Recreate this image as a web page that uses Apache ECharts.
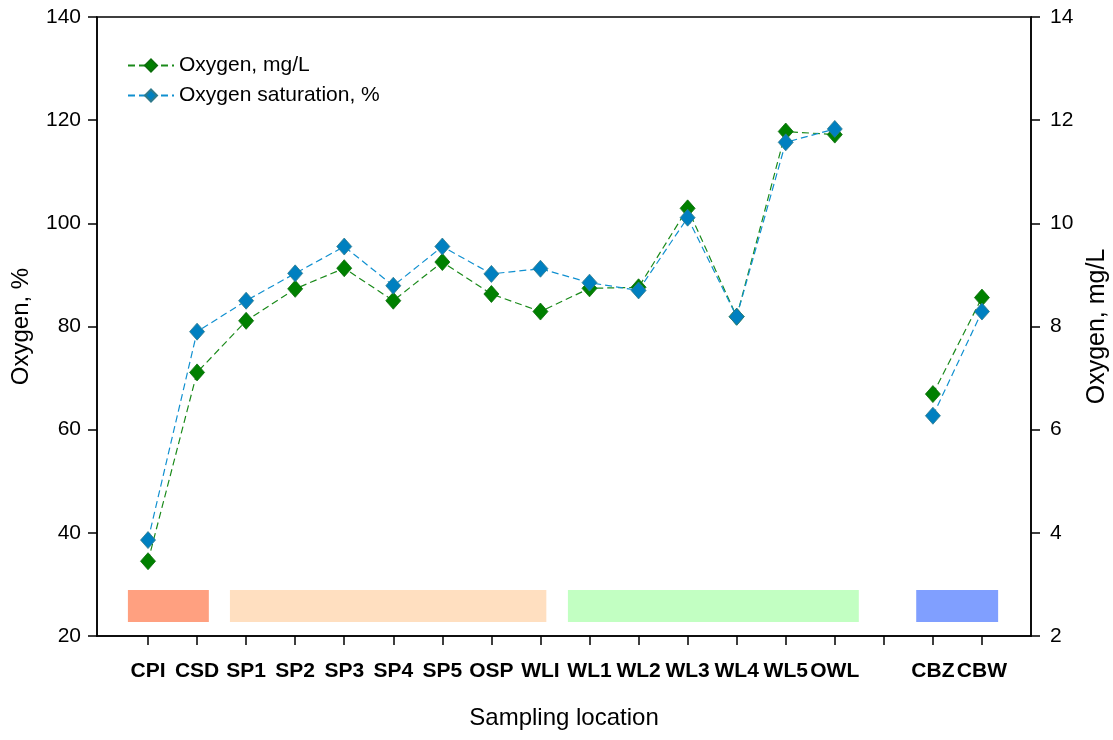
<!DOCTYPE html>
<html>
<head>
<meta charset="utf-8">
<script src="https://cdn.jsdelivr.net/npm/echarts@6/dist/echarts.min.js"></script>
<style>
  html, body { margin: 0; padding: 0; background: #fff; }
  #chart { width: 1113px; height: 740px; }
</style>
</head>
<body>
<div id="chart"></div>
<script>
// Sampling locations (the empty entry is a spacer between the two groups)
const categories = ['CPI', 'CSD', 'SP1', 'SP2', 'SP3', 'SP4', 'SP5', 'OSP', 'WLI',
  'WL1', 'WL2', 'WL3', 'WL4', 'WL5', 'OWL', '', 'CBZ', 'CBW'];

// Dissolved oxygen, mg/L (right axis)
const oxygenMgL = [3.45, 7.11, 8.11, 8.73, 9.13, 8.50, 9.25, 8.63, 8.29,
  8.74, 8.76, 10.29, 8.19, 11.78, 11.72, null, 6.69, 8.56];

// Oxygen saturation, % (left axis)
const oxygenSat = [38.6, 79.0, 85.0, 90.3, 95.5, 87.9, 95.5, 90.2, 91.2,
  88.5, 87.0, 101.1, 81.9, 115.7, 118.3, null, 62.7, 82.9];

// Location groups shown as coloured bands along the bottom (category units)
const zoneFrom = [-0.41, 1.67, 8.56, 15.66];
const zoneTo = [1.24, 8.12, 14.49, 17.33];
const zoneColors = ['#FFA080', '#FFDFC0', '#C2FFC2', '#809FFF'];
const zoneLow = 22.7;
const zoneHigh = 28.9;

const leftTicks = [20, 40, 60, 80, 100, 120, 140];
const rightTicks = [2, 4, 6, 8, 10, 12, 14];

const FONT = '"Liberation Sans", Arial, Helvetica, sans-serif';
const idx = categories.map((_, i) => i);
const toPoints = arr => arr.map((v, i) => [i, v == null ? '-' : v]);

const chart = echarts.init(document.getElementById('chart'), null, { renderer: 'canvas' });

chart.setOption({
  animation: false,
  backgroundColor: '#fff',
  textStyle: { fontFamily: FONT },
  grid: {
    left: 97, right: 82, top: 17, bottom: 104,
    outerBoundsMode: 'none',
    containLabel: false,
    show: true, borderColor: '#000', borderWidth: 1.5
  },
  legend: {
    orient: 'vertical',
    left: 122, top: 50,
    itemWidth: 46, itemHeight: 15, itemGap: 9,
    textStyle: { fontSize: 21, color: '#000', fontFamily: FONT },
    data: ['Oxygen, mg/L', 'Oxygen saturation, %']
  },
  xAxis: {
    type: 'value',
    min: -1.04, max: 18,
    name: 'Sampling location',
    nameLocation: 'middle',
    nameGap: 70,
    nameTextStyle: { fontSize: 24, color: '#000', fontFamily: FONT },
    axisLine: { show: true, onZero: false, lineStyle: { color: '#000', width: 1.5 } },
    axisTick: { show: true, length: 9, customValues: idx, lineStyle: { color: '#000', width: 1.5 } },
    axisLabel: {
      customValues: idx,
      margin: 25,
      fontSize: 21, fontWeight: 'bold', color: '#000', fontFamily: FONT,
      formatter: v => categories[Math.round(v)] || ''
    },
    splitLine: { show: false }
  },
  yAxis: [
    {
      type: 'value', min: 20, max: 140, interval: 20,
      position: 'left',
      name: 'Oxygen, %',
      nameLocation: 'middle',
      nameGap: 64,
      nameTextStyle: { fontSize: 24, color: '#000', fontFamily: FONT },
      axisLine: { show: true, onZero: false, lineStyle: { color: '#000', width: 1.5 } },
      axisTick: { show: true, length: 9, lineStyle: { color: '#000', width: 1.5 } },
      axisLabel: {
        margin: 16, fontSize: 21, color: '#000', fontFamily: FONT,
        formatter: v => (leftTicks.includes(v) ? String(v) : '')
      },
      splitLine: { show: false }
    },
    {
      type: 'value', min: 2, max: 14, interval: 2,
      position: 'right',
      name: 'Oxygen, mg/L',
      nameLocation: 'middle',
      nameGap: 54,
      nameRotate: 90,
      nameTextStyle: { fontSize: 25, color: '#000', fontFamily: FONT },
      axisLine: { show: true, onZero: false, lineStyle: { color: '#000', width: 1.5 } },
      axisTick: { show: true, length: 9, lineStyle: { color: '#000', width: 1.5 } },
      axisLabel: {
        margin: 19, fontSize: 21, color: '#000', fontFamily: FONT,
        formatter: v => (rightTicks.includes(v) ? String(v) : '')
      },
      splitLine: { show: false }
    }
  ],
  series: [
    {
      name: 'Oxygen, mg/L',
      type: 'line',
      yAxisIndex: 1,
      data: toPoints(oxygenMgL),
      connectNulls: false,
      symbol: 'diamond',
      symbolSize: [15, 17],
      color: '#008000',
      itemStyle: { color: '#008000', borderColor: '#0a6e0a', borderWidth: 0.8 },
      lineStyle: { color: '#1a8a1a', width: 1.2, type: [7, 4] },
      z: 3
    },
    {
      name: 'Oxygen saturation, %',
      type: 'line',
      yAxisIndex: 0,
      data: toPoints(oxygenSat),
      connectNulls: false,
      symbol: 'diamond',
      symbolSize: [15, 17],
      color: '#0080C0',
      itemStyle: { color: '#0080C0', borderColor: '#2f7a8c', borderWidth: 0.8 },
      lineStyle: { color: '#1090D0', width: 1.2, type: [7, 4] },
      z: 4,
      markArea: {
        silent: true,
        data: zoneFrom.map((x0, i) => [
          { xAxis: x0, yAxis: zoneLow, itemStyle: { color: zoneColors[i], opacity: 1 } },
          { xAxis: zoneTo[i], yAxis: zoneHigh }
        ])
      }
    }
  ]
});
</script>
</body>
</html>
